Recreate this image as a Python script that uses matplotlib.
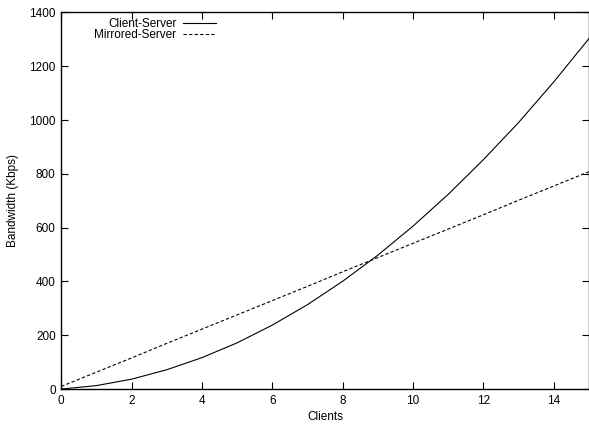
#!/usr/bin/env python
"""
Bandwidth needed by a client-server setup versus a mirrored-server setup.
"""

import matplotlib
matplotlib.use("Agg")
import matplotlib.pyplot as plt

# Values
clients = [0, 1, 2, 3, 4, 5, 6, 7, 8, 9, 10, 11, 12, 13, 14, 15]
client_server = [0, 13, 37, 72, 117, 172, 238, 314, 401, 498, 606, 724,
                 853, 991, 1142, 1303]
mirrored_server = [10, 63, 116, 170, 223, 276, 329, 382, 436, 489, 542, 595,
                   648, 702, 755, 808]

x_ticks = [0, 2, 4, 6, 8, 10, 12, 14]
y_ticks = [0, 200, 400, 600, 800, 1000, 1200, 1400]

plt.rcParams['font.family'] = ['Liberation Sans', 'DejaVu Sans']
plt.rcParams['font.size'] = 8.5

fig = plt.figure(figsize=(5.89, 4.29), dpi=100)
ax = fig.add_axes([0.104, 0.093, 0.896, 0.878])

ax.plot(clients, client_server, color='black', linewidth=0.8,
        label='Client-Server')
ax.plot(clients, mirrored_server, color='black', linewidth=0.8,
        linestyle=(0, (3, 2)), label='Mirrored-Server')

ax.set_xlim(0, 15)
ax.set_ylim(0, 1400)
ax.set_xticks(x_ticks)
ax.set_yticks(y_ticks)
ax.tick_params(direction='in', length=5, width=0.8, top=True, right=True,
               labelsize=8.5, pad=4)
for spine in ax.spines.values():
    spine.set_linewidth(1.0)

ax.set_xlabel('Clients', fontsize=8.5, labelpad=3)
ax.set_ylabel('Bandwidth (Kbps)', fontsize=8.5, labelpad=7)

# Legend sits top-left, labels right-aligned before the line sample
ax.legend(loc='upper left', bbox_to_anchor=(0.047, 1.008), frameon=False,
          markerfirst=False, handlelength=2.8, handletextpad=0.6,
          labelspacing=-0.08, borderaxespad=0.3, fontsize=8.5)
for text in ax.get_legend().get_texts():
    text.set_ha('right')

fig.savefig('out.png', dpi=100)
